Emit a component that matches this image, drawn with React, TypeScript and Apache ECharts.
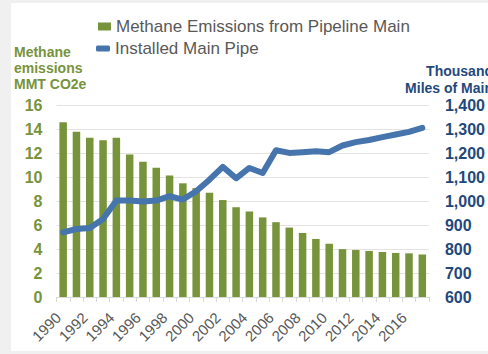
import React, { useEffect, useRef } from "react";
import * as echarts from "echarts";

const years = [
  "1990", "1991", "1992", "1993", "1994", "1995", "1996", "1997", "1998", "1999",
  "2000", "2001", "2002", "2003", "2004", "2005", "2006", "2007", "2008", "2009",
  "2010", "2011", "2012", "2013", "2014", "2015", "2016", "2017",
];

const emissions = [
  14.6, 13.8, 13.3, 13.1, 13.3, 11.9, 11.3, 10.8, 10.15, 9.5,
  9.1, 8.7, 8.1, 7.5, 7.15, 6.65, 6.25, 5.8, 5.35, 4.85,
  4.45, 4.0, 3.93, 3.85, 3.76, 3.68, 3.65, 3.55,
];

const mainPipe = [
  870, 884, 888, 926, 1003, 1003, 999, 1003, 1021, 1007,
  1042, 1090, 1144, 1096, 1139, 1118, 1213, 1202, 1205, 1209,
  1205, 1233, 1247, 1256, 1268, 1279, 1290, 1307,
];

const barName = "Methane Emissions from Pipeline Main";
const lineName = "Installed Main Pipe";
const leftTitle = "Methane\nemissions\nMMT CO2e";
const rightTitle = "Thousand\nMiles of Main";

const FONT = "'Liberation Sans', Arial, sans-serif";
const GREEN = "#77933C";
const BLUE = "#4674AD";
const NAVY = "#1F497D";
const GRAY = "#595959";

export default function App() {
  const ref = useRef<HTMLDivElement>(null);

  useEffect(() => {
    if (!ref.current) return;
    const chart = echarts.init(ref.current, null, { renderer: "svg" });
    chart.setOption({
      animation: false,
      grid: { left: 56.5, right: 51.2, top: 105.5, bottom: 57, containLabel: false },
      legend: [
        {
          data: [{ name: barName, icon: "rect" }],
          left: 98,
          top: 18,
          itemWidth: 13,
          itemHeight: 8,
          padding: 0,
          textStyle: { fontSize: 17, color: GRAY, fontFamily: FONT },
        },
        {
          data: [{ name: lineName, icon: "roundRect" }],
          left: 96,
          top: 40,
          itemWidth: 14,
          itemHeight: 6,
          padding: 0,
          textStyle: { fontSize: 17, color: GRAY, fontFamily: FONT },
        },
      ],
      graphic: [
        {
          type: "text",
          x: 14,
          y: 44,
          style: {
            text: leftTitle,
            fill: GREEN,
            font: `bold 14px ${FONT}`,
            lineHeight: 16,
            align: "left",
            verticalAlign: "top",
          },
        },
        {
          type: "text",
          x: 493,
          y: 62,
          style: {
            text: rightTitle,
            fill: NAVY,
            font: `bold 14px ${FONT}`,
            lineHeight: 17,
            align: "right",
            verticalAlign: "top",
          },
        },
      ],
      xAxis: {
        type: "category",
        data: years,
        boundaryGap: true,
        axisLine: { lineStyle: { color: "#D9D9D9" } },
        axisTick: { show: true, interval: 0, length: 5, lineStyle: { color: "#D9D9D9" } },
        axisLabel: {
          interval: 1,
          rotate: 45,
          fontSize: 15,
          color: GRAY,
          fontFamily: FONT,
          margin: 13,
          padding: [0, 7, 0, 0],
        },
      },
      yAxis: [
        {
          type: "value",
          min: 0,
          max: 16,
          interval: 2,
          axisLine: { show: false },
          axisTick: { show: false },
          splitLine: { lineStyle: { color: "#E3E3E3", width: 1 } },
          axisLabel: {
            fontSize: 16,
            fontWeight: "bold",
            color: GREEN,
            fontFamily: FONT,
            margin: 14,
          },
        },
        {
          type: "value",
          min: 600,
          max: 1400,
          interval: 100,
          axisLine: { show: false },
          axisTick: { show: false },
          splitLine: { show: false },
          axisLabel: {
            fontSize: 16,
            fontWeight: "bold",
            color: NAVY,
            fontFamily: FONT,
            margin: 16,
            formatter: (v: number) => v.toLocaleString("en-US"),
          },
        },
      ],
      series: [
        {
          name: barName,
          type: "bar",
          data: emissions,
          barWidth: 7.5,
          itemStyle: { color: GREEN },
          z: 2,
        },
        {
          name: lineName,
          type: "line",
          yAxisIndex: 1,
          data: mainPipe,
          symbol: "none",
          itemStyle: { color: BLUE },
          lineStyle: { width: 6, color: BLUE, cap: "round", join: "round" },
          z: 3,
        },
      ],
    });
    return () => chart.dispose();
  }, []);

  return (
    <div
      style={{
        position: "fixed",
        left: 0,
        top: 0,
        width: 488,
        height: 354,
        background: "#F0F0F0",
        overflow: "hidden",
      }}
    >
      <div
        style={{
          position: "absolute",
          left: 11,
          top: 3,
          width: 477,
          height: 348,
          background: "#FFFFFF",
        }}
      />
      <div ref={ref} style={{ position: "absolute", left: 0, top: 0, width: 488, height: 354 }} />
    </div>
  );
}
